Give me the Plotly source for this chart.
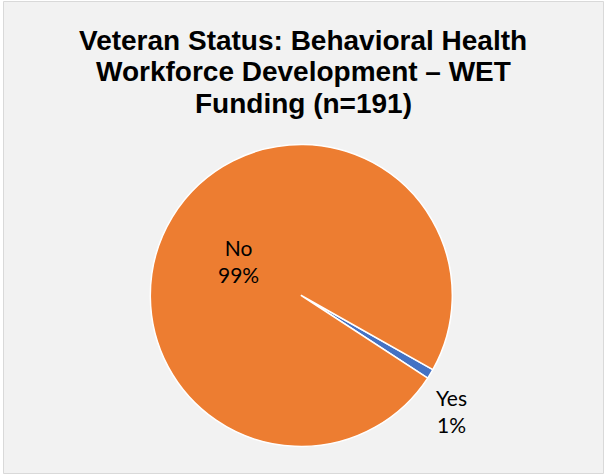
import plotly.graph_objects as go

W, H = 605, 475

title_lines = ["Veteran Status: Behavioral Health",
               "Workforce Development \u2013 WET",
               "Funding (n=191)"]
labels = ["Yes", "No"]
values = [2, 189]
pct_text = ["1%", "99%"]
colors = ["#4472C4", "#ED7D31"]

def px(x):
    return x / W

def py(y):
    return 1 - y / H

cx, cy, r = 301.3, 295.5, 151

fig = go.Figure()
fig.add_trace(go.Pie(
    labels=labels, values=values, sort=False, direction="clockwise",
    rotation=119.4,
    marker=dict(colors=colors, line=dict(color="#FFFFFF", width=1.5)),
    textinfo="none", hoverinfo="label+percent", showlegend=False,
    domain=dict(x=[px(cx - r), px(cx + r)], y=[py(cy + r), py(cy - r)]),
))

# frame
fig.add_shape(type="rect", xref="paper", yref="paper",
              x0=px(3.5), x1=px(603.5), y0=py(473.5), y1=py(1.5),
              fillcolor="#F2F2F2", line=dict(color="#D9D9D9", width=1),
              layer="below")

title_y = [40, 71.7, 103.4]
for t, yy in zip(title_lines, title_y):
    fig.add_annotation(text="<b>%s</b>" % t, x=px(303), y=py(yy),
                       xref="paper", yref="paper", showarrow=False,
                       xanchor="center", yanchor="middle",
                       font=dict(family="Liberation Sans, Arial", size=28, color="#000000"))

label_pos = {"No": (238.5, 261), "Yes": (451, 411)}
for lab, pt in zip(labels, pct_text):
    x, y = label_pos[lab]
    fig.add_annotation(text="%s<br>%s" % (lab, pt), x=px(x), y=py(y),
                       xref="paper", yref="paper", showarrow=False,
                       xanchor="center", yanchor="middle", align="center",
                       font=dict(family="Lato, Noto Sans", size=21, color="#000000"))

fig.update_layout(width=W, height=H, margin=dict(l=0, r=0, t=0, b=0),
                  paper_bgcolor="#FFFFFF", plot_bgcolor="#FFFFFF")
fig.write_html("out.html", config={"displayModeBar": False},
               post_script="document.body.style.margin='0';document.body.style.overflow='hidden';")
